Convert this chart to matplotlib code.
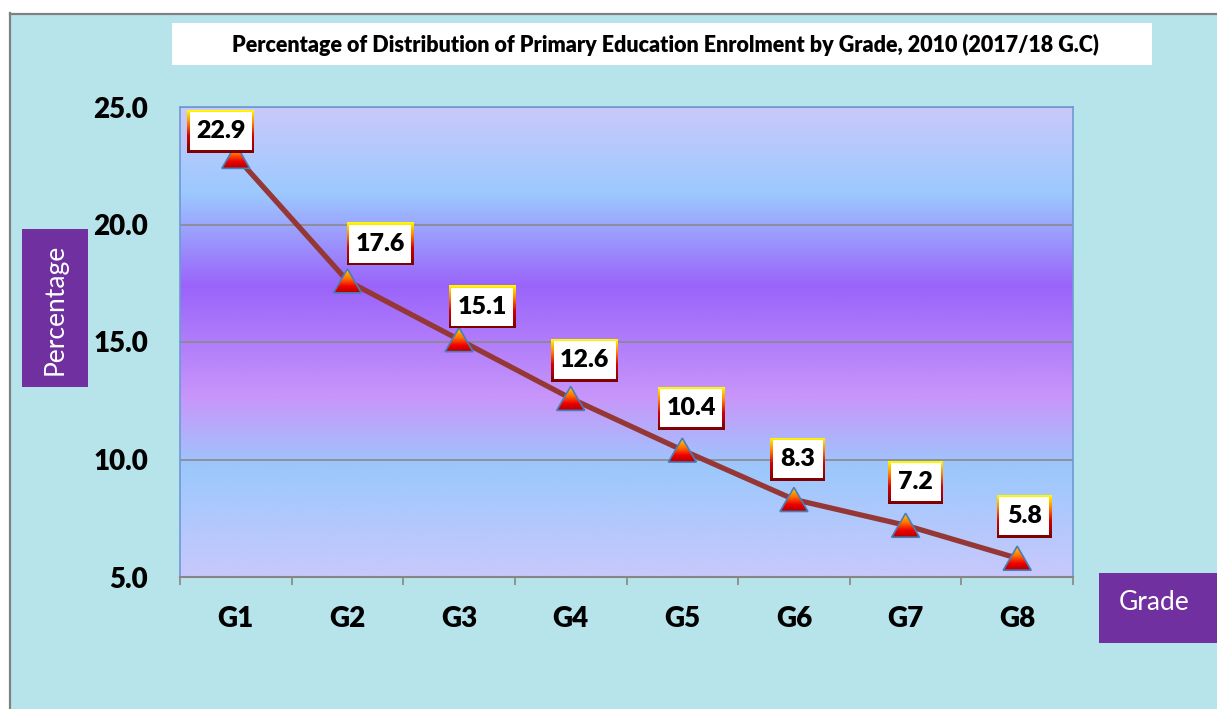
import numpy as np
import matplotlib
matplotlib.use('Agg')
import matplotlib.pyplot as plt
import matplotlib.transforms as mtransforms
from matplotlib.colors import LinearSegmentedColormap
from matplotlib.patches import Rectangle, Polygon

grades = ['G1', 'G2', 'G3', 'G4', 'G5', 'G6', 'G7', 'G8']
percent = [22.9, 17.6, 15.1, 12.6, 10.4, 8.3, 7.2, 5.8]
y_ticks = [5.0, 10.0, 15.0, 20.0, 25.0]
title = 'Percentage of Distribution of Primary Education Enrolment by Grade, 2010 (2017/18 G.C)'

# label box offsets from each point, in pixels (x right, y up)
label_offsets = [(-15, 25), (33, 37), (23, 33), (14, 38), (9, 42), (4, 40), (10, 43), (7, 42)]

W, H = 1217, 709
FONT = 'Lato'

plot_cmap = LinearSegmentedColormap.from_list('plotbg', [
    (0.0, '#c8c8fc'), (0.23, '#9cc8fc'), (0.38, '#c896fa'),
    (0.62, '#9a64fa'), (0.82, '#9ccaff'), (1.0, '#cac8fa')])
tri_cmap = LinearSegmentedColormap.from_list('tri', [
    (0.0, '#b00000'), (0.28, '#f00000'), (0.6, '#ff7000'), (1.0, '#ffd800')])
box_cmap = LinearSegmentedColormap.from_list('box', [
    (0.0, '#7a0000'), (0.4, '#d00000'), (0.7, '#ff8000'), (1.0, '#ffff00')])
grad = np.linspace(0, 1, 256).reshape(-1, 1)


def px_transform(ax, x, y):
    return mtransforms.Affine2D() + mtransforms.ScaledTranslation(x, y, ax.transData)


def gradient_shape(ax, verts, tr, cmap, zorder):
    poly = Polygon(verts, closed=True, transform=tr, facecolor='none', edgecolor='none')
    ax.add_patch(poly)
    xs = [v[0] for v in verts]
    ys = [v[1] for v in verts]
    im = ax.imshow(grad, cmap=cmap, origin='lower', aspect='auto',
                   extent=(min(xs), max(xs), min(ys), max(ys)),
                   transform=tr, zorder=zorder, interpolation='bilinear')
    im.set_clip_path(poly)
    return poly


def main():
    fig = plt.figure(figsize=(W / 100, H / 100), dpi=100, facecolor='white')

    # textured-looking panel
    panel = Rectangle((9 / W, 0), 1 - 9 / W, 1 - 13 / H, transform=fig.transFigure,
                      facecolor='#b7e3ea', edgecolor='none', zorder=-10)
    fig.patches.append(panel)
    fig.add_artist(plt.Line2D([10 / W, 10 / W], [0, 1 - 13 / H], color='#808080', lw=1.6, zorder=-9))
    fig.add_artist(plt.Line2D([10 / W, 1], [1 - 14 / H, 1 - 14 / H], color='#808080', lw=1.6, zorder=-9))

    # title box
    fig.patches.append(Rectangle((172 / W, 1 - 65 / H), 980 / W, 42 / H,
                                 transform=fig.transFigure, facecolor='white',
                                 edgecolor='none', zorder=1))
    fig.text(665 / W, 1 - 45 / H, title, ha='center', va='center', fontsize=15.5,
             fontweight='heavy', family=FONT, color='black')

    # axis title boxes
    fig.patches.append(Rectangle((22 / W, 1 - 387 / H), 66 / W, 158 / H,
                                 transform=fig.transFigure, facecolor='#7030a0', zorder=1))
    fig.text(55 / W, 1 - 309 / H, 'Percentage', rotation=90, ha='center', va='center',
             fontsize=19, family=FONT, color='white')
    fig.patches.append(Rectangle((1099 / W, 1 - 643 / H), 118 / W, 70 / H,
                                 transform=fig.transFigure, facecolor='#7030a0', zorder=1))
    fig.text(1154 / W, 1 - 602 / H, 'Grade', ha='center', va='center',
             fontsize=19, family=FONT, color='white')

    ax = fig.add_axes([180 / W, 1 - 577 / H, 893 / W, 470 / H])
    ax.set_autoscale_on(False)
    ax.set_xlim(-0.5, len(grades) - 0.5)
    ax.set_ylim(5, 25)

    # plot area gradient
    ax.imshow(grad, cmap=plot_cmap, origin='lower', aspect='auto',
              extent=(0, 1, 0, 1), transform=ax.transAxes, zorder=0)

    ax.set_yticks(y_ticks)
    ax.set_yticklabels([f'{t:.1f}' for t in y_ticks])
    ax.yaxis.grid(True, color='#8a8a8a', lw=1.2)
    ax.set_axisbelow(True)
    ax.tick_params(axis='y', length=0, pad=23)
    ax.set_xticks(range(len(grades)))
    ax.set_xticklabels(grades)
    ax.set_xticks(np.arange(-0.5, len(grades), 1.0), minor=True)
    ax.tick_params(axis='x', which='major', length=0, pad=21)
    ax.tick_params(axis='x', which='minor', length=6, width=1.2, color='#868686', direction='out')
    for lab in ax.get_xticklabels() + ax.get_yticklabels():
        lab.set_fontsize(20)
        lab.set_fontweight('heavy')
        lab.set_family(FONT)

    for s in ['left', 'top', 'right']:
        ax.spines[s].set_color('#6d99d4')
        ax.spines[s].set_linewidth(1.2)
    ax.spines['bottom'].set_color('#868686')
    ax.spines['bottom'].set_linewidth(1.5)

    xs = np.arange(len(grades))
    ax.plot(xs, percent, color='#953735', lw=3.8, zorder=3, solid_capstyle='round')

    for x, v, (dx, dy) in zip(xs, percent, label_offsets):
        tr = px_transform(ax, x, v)
        tri = [(-14, -12), (14, -12), (0, 12)]
        gradient_shape(ax, tri, tr, tri_cmap, 4)
        ax.add_patch(Polygon(tri, closed=True, transform=tr, facecolor='none',
                             edgecolor='#4a7ebb', lw=1.2, zorder=4.5))

        txt = f'{v:.1f}'
        bw = 67 if len(txt) == 4 else 55
        bh = 43
        outer = [(dx - bw / 2, dy - bh / 2), (dx + bw / 2, dy - bh / 2),
                 (dx + bw / 2, dy + bh / 2), (dx - bw / 2, dy + bh / 2)]
        gradient_shape(ax, outer, tr, box_cmap, 5)
        b = 2.5
        ax.add_patch(Rectangle((dx - bw / 2 + b, dy - bh / 2 + b), bw - 2 * b, bh - 2 * b,
                               transform=tr, facecolor='white', edgecolor='none', zorder=5.5))
        ax.annotate(txt, (x, v), xytext=(dx, dy), textcoords='offset pixels',
                    ha='center', va='center', fontsize=18, fontweight='heavy',
                    family=FONT, color='black', zorder=6)

    fig.savefig('out.png', dpi=100, facecolor=fig.get_facecolor())


if __name__ == '__main__':
    main()
